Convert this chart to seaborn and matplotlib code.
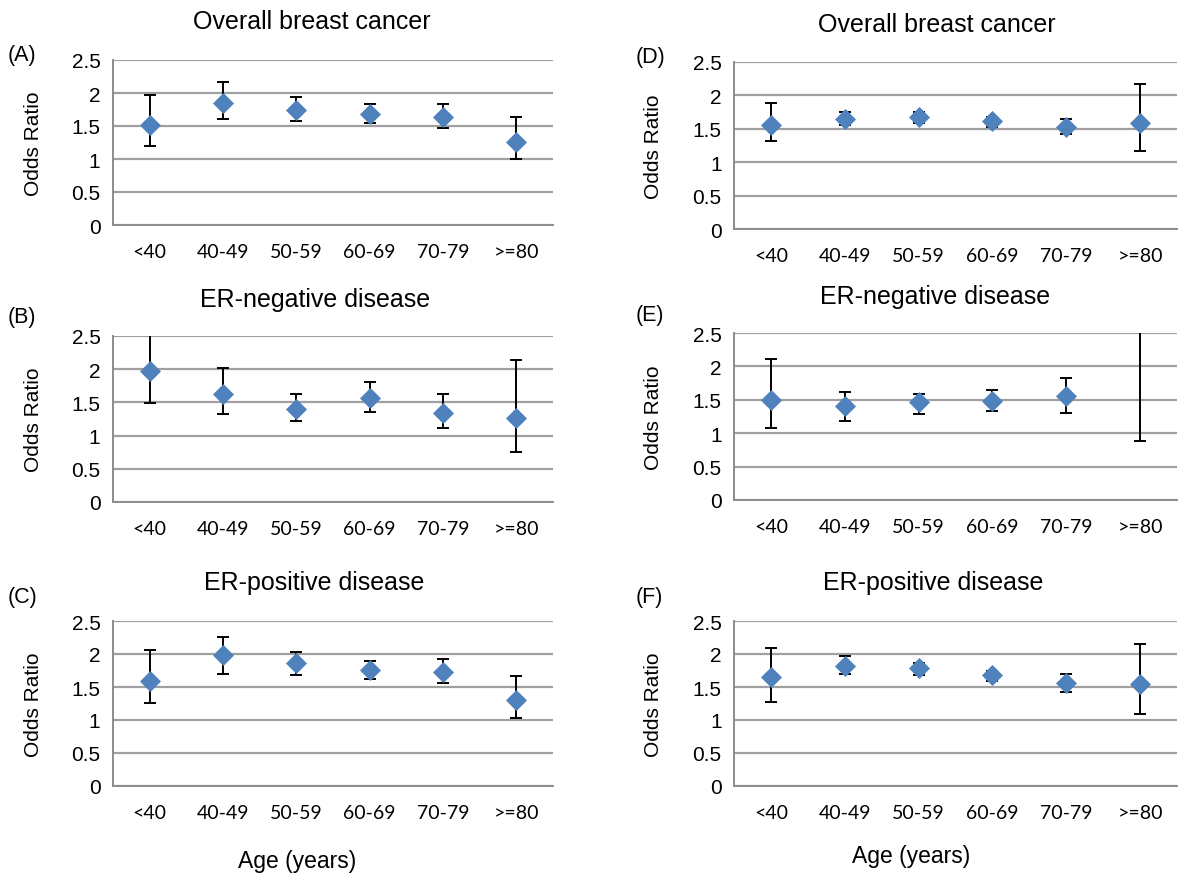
import numpy as np
import pandas as pd
import seaborn as sns
import matplotlib
matplotlib.use("Agg")
import matplotlib.pyplot as plt

sns.set_style("white")
plt.rcParams['font.family'] = ['Liberation Sans', 'DejaVu Sans']
plt.rcParams['text.color'] = 'black'
plt.rcParams['axes.labelcolor'] = 'black'

# dane
ages = ["<40", "40-49", "50-59", "60-69", "70-79", ">=80"]

panel_labels = ["(A)", "(B)", "(C)", "(D)", "(E)", "(F)"]
titles = ["Overall breast cancer", "ER-negative disease", "ER-positive disease",
          "Overall breast cancer", "ER-negative disease", "ER-positive disease"]

or_A = [1.51, 1.85, 1.74, 1.68, 1.63, 1.26]
lo_A = [1.19, 1.61, 1.58, 1.55, 1.47, 1.00]
hi_A = [1.97, 2.16, 1.94, 1.83, 1.83, 1.63]

or_B = [1.98, 1.62, 1.40, 1.57, 1.34, 1.26]
lo_B = [1.49, 1.33, 1.22, 1.36, 1.11, 0.75]
hi_B = [2.62, 2.02, 1.63, 1.80, 1.63, 2.14]

or_C = [1.59, 1.99, 1.87, 1.76, 1.73, 1.31]
lo_C = [1.26, 1.70, 1.68, 1.62, 1.56, 1.03]
hi_C = [2.06, 2.26, 2.03, 1.89, 1.92, 1.67]

or_D = [1.56, 1.65, 1.68, 1.62, 1.53, 1.59]
lo_D = [1.31, 1.55, 1.59, 1.53, 1.42, 1.17]
hi_D = [1.89, 1.75, 1.75, 1.68, 1.64, 2.17]

or_E = [1.50, 1.40, 1.46, 1.48, 1.56, 2.90]
lo_E = [1.08, 1.19, 1.28, 1.33, 1.30, 0.89]
hi_E = [2.11, 1.61, 1.58, 1.64, 1.83, 9.00]

or_F = [1.65, 1.82, 1.79, 1.68, 1.56, 1.54]
lo_F = [1.28, 1.70, 1.68, 1.59, 1.43, 1.09]
hi_F = [2.09, 1.97, 1.87, 1.75, 1.70, 2.15]

panels = [(or_A, lo_A, hi_A), (or_B, lo_B, hi_B), (or_C, lo_C, hi_C),
          (or_D, lo_D, hi_D), (or_E, lo_E, hi_E), (or_F, lo_F, hi_F)]

W, H = 1180, 879
# pozycje osi w pikselach: (lewo, gora, prawo, dol)
boxes = [(113, 61, 553, 226), (113, 337, 553, 503), (113, 622, 553, 787),
         (734, 63, 1177, 230), (734, 334, 1177, 501), (734, 622, 1177, 787)]
title_pos = [(312, 22), (315, 300), (314, 583), (937, 25), (935, 297), (933, 583)]
label_pos = [(8, 55), (8, 318), (8, 597), (636, 58), (636, 315), (636, 597)]

blue = "#4f81bd"
grid_c = "#a0a0a0"
spine_c = "#8c8c8c"

fig = plt.figure(figsize=(W / 100, H / 100), dpi=100)

for i, (vals, lo, hi) in enumerate(panels):
    l, t, r, b = boxes[i]
    ax = fig.add_axes([l / W, 1 - b / H, (r - l) / W, (b - t) / H])
    df = pd.DataFrame({"age": ages, "OR": vals, "lo": lo, "hi": hi})
    yerr = [df["OR"] - df["lo"], df["hi"] - df["OR"]]
    ax.errorbar(np.arange(len(ages)), df["OR"], yerr=yerr, fmt="none",
                ecolor="black", elinewidth=1.4, capsize=4.5, capthick=1.4, zorder=3)
    sns.scatterplot(x=np.arange(len(ages)), y=df["OR"], marker="D", s=115,
                    color=blue, edgecolor=blue, linewidth=0, ax=ax, zorder=4)
    ax.set_xlim(-0.5, len(ages) - 0.5)
    ax.set_ylim(0, 2.5)
    ax.set_yticks([0, 0.5, 1, 1.5, 2, 2.5])
    ax.set_yticklabels(["0", "0.5", "1", "1.5", "2", "2.5"], fontsize=15)
    ax.set_xticks(np.arange(len(ages)))
    ax.set_xticklabels(ages, fontsize=14, family=["Lato", "DejaVu Sans"])
    ax.set_xticks(np.arange(-0.5, len(ages)), minor=True)
    ax.tick_params(axis="x", which="major", length=0, pad=13, labelcolor="black")
    ax.tick_params(axis="x", which="minor", length=6, width=1.2, color=spine_c, direction="out")
    ax.tick_params(axis="y", length=6, width=1.2, color=spine_c, direction="out", pad=3,
                   labelcolor="black")
    ax.yaxis.grid(True, color=grid_c, linewidth=1.6)
    ax.set_axisbelow(True)
    for s in ["top", "right"]:
        ax.spines[s].set_visible(False)
    for s in ["left", "bottom"]:
        ax.spines[s].set_color(spine_c)
        ax.spines[s].set_linewidth(1.4)
    ax.set_xlabel("")
    ax.set_ylabel("Odds Ratio", fontsize=15)
    ax.yaxis.set_label_coords(-0.16, 0.5)

    tx, ty = title_pos[i]
    fig.text(tx / W, 1 - ty / H, titles[i], fontsize=18, ha="center", va="center")
    px, py = label_pos[i]
    fig.text(px / W, 1 - py / H, panel_labels[i], fontsize=15.5, ha="left", va="center")

fig.text(297 / W, 1 - 862 / H, "Age (years)", fontsize=16.5, ha="center", va="center")
fig.text(911 / W, 1 - 857 / H, "Age (years)", fontsize=16.5, ha="center", va="center")

fig.savefig("out.png", dpi=100)
